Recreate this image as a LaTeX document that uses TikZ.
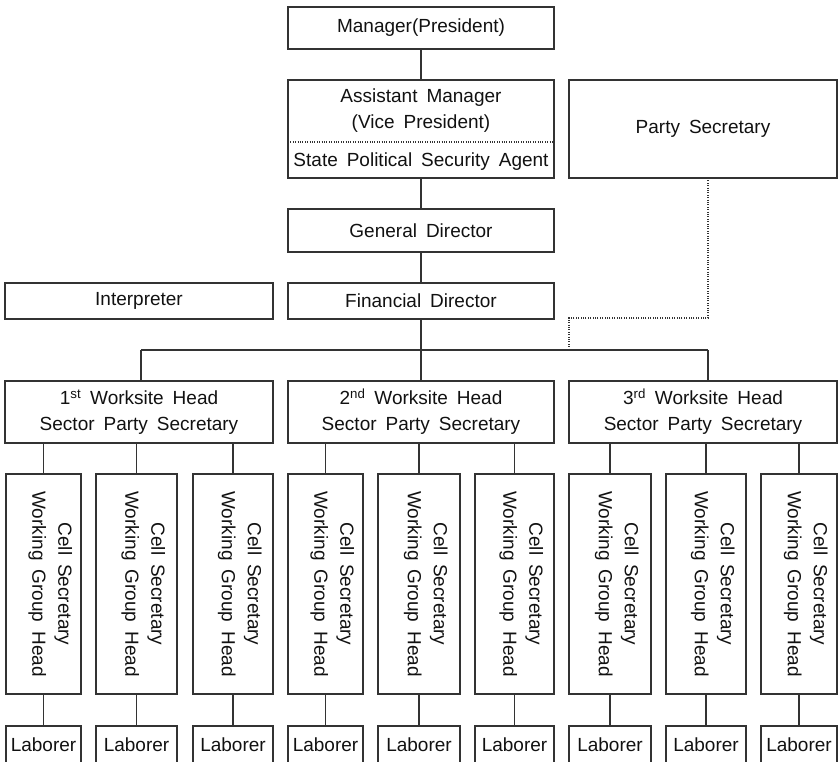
\documentclass[tikz,border=0pt]{standalone}
\usepackage{fontspec}
\setmainfont[WordSpace=1.7]{Liberation Sans}
\usepackage{graphicx}
\definecolor{linec}{HTML}{333333}
\definecolor{textc}{HTML}{111111}
\begin{document}
\begin{tikzpicture}[x=1pt,y=-1pt,
  box/.style={draw=linec, line width=1.1pt, inner sep=0pt, outer sep=0pt, align=center,
    font=\fontsize{19}{26}\selectfont, text=textc},
  txt/.style={inner sep=0pt, align=center, font=\fontsize{19}{26}\selectfont, text=textc},
  conn/.style={draw=linec, line width=1.1pt},
  dotc/.style={draw=linec, line width=1.1pt, dash pattern=on 1pt off 1.4pt},
  cellbox/.style={box, minimum height=220pt},
  labbox/.style={box, minimum height=42pt}]
\useasboundingbox (0,0) rectangle (838,761);
\newcommand{\celltext}{\hspace*{14pt}\rotatebox{-90}{\begin{tabular}{@{}c@{}}Cell Secretary\\Working Group Head\end{tabular}}}

% top chain
\node[box, minimum width=266pt, minimum height=42pt] (mgr) at (421,28) {Manager(President)};
\node[box, minimum width=266pt, minimum height=98pt] (asst) at (421,129) {};
\node[txt] (asstt) at (421,111) {Assistant Manager\\(Vice President)};
\node[txt] (spsa) at (421,161.5) {State Political Security Agent};
\node[box, minimum width=268pt, minimum height=98pt] (party) at (703,129) {Party Secretary};
\node[box, minimum width=266pt, minimum height=43pt] (gen) at (421,230.5) {General Director};
\node[box, minimum width=266pt, minimum height=36pt] (fin) at (421,301) {Financial Director};
\node[box, minimum width=268pt, minimum height=36pt] (interp) at (139,301) {Interpreter};

% worksites
\node[box, minimum width=268pt, minimum height=62pt] (ws1) at (139,412) {1\textsuperscript{st} Worksite Head\\Sector Party Secretary};
\node[box, minimum width=266pt, minimum height=62pt] (ws2) at (421,412) {2\textsuperscript{nd} Worksite Head\\Sector Party Secretary};
\node[box, minimum width=268pt, minimum height=62pt] (ws3) at (703,412) {3\textsuperscript{rd} Worksite Head\\Sector Party Secretary};

% cells
\node[cellbox, minimum width=75pt] (c11) at (43.5,584) {\celltext};
\node[cellbox, minimum width=81pt] (c12) at (136.5,584) {\celltext};
\node[cellbox, minimum width=80pt] (c13) at (233,584) {\celltext};
\node[cellbox, minimum width=75pt] (c21) at (325.5,584) {\celltext};
\node[cellbox, minimum width=82pt] (c22) at (419,584) {\celltext};
\node[cellbox, minimum width=79pt] (c23) at (514.5,584) {\celltext};
\node[cellbox, minimum width=82pt] (c31) at (610,584) {\celltext};
\node[cellbox, minimum width=80pt] (c32) at (706,584) {\celltext};
\node[cellbox, minimum width=76pt] (c33) at (799,584) {\celltext};

% laborers (bottom edge falls outside the picture, as in the reference)
\node[labbox, minimum width=75pt] (l11) at (43.5,747) {};
\node[labbox, minimum width=81pt] (l12) at (136.5,747) {};
\node[labbox, minimum width=80pt] (l13) at (233,747) {};
\node[labbox, minimum width=75pt] (l21) at (325.5,747) {};
\node[labbox, minimum width=82pt] (l22) at (419,747) {};
\node[labbox, minimum width=79pt] (l23) at (514.5,747) {};
\node[labbox, minimum width=82pt] (l31) at (610,747) {};
\node[labbox, minimum width=80pt] (l32) at (706,747) {};
\node[labbox, minimum width=76pt] (l33) at (799,747) {};
\foreach \n in {l11,l12,l13,l21,l22,l23,l31,l32,l33}{
  \node[txt] (\n t) at ([yshift=2.5pt]\n.center) {Laborer};
}

% dotted divider in assistant box
\draw[dotc] (asst.west |- 0,142) -- (asst.east |- 0,142);

% connectors
\coordinate (b1) at (141,350);
\coordinate (b3) at (708,350);
\draw[conn] (mgr.south) -- (asst.north);
\draw[conn] (asst.south) -- (gen.north);
\draw[conn] (gen.south) -- (fin.north);
\draw[conn] (fin.south) -- (fin.south |- b1);
\draw[conn] (b1) -- (b3);
\draw[conn] (b1) -- (b1 |- ws1.north);
\draw[conn] (fin.south |- b1) -- (ws2.north);
\draw[conn] (b3) -- (b3 |- ws3.north);

% party secretary dotted link
\coordinate (d0) at (708,178);
\coordinate (d1) at (708,318);
\coordinate (d2) at (569,318);
\coordinate (d3) at (569,350);
\draw[dotc] (d0) -- (d1) -- (d2) -- (d3);

\foreach \g in {1,2,3}{
  \foreach \i in {1,2,3}{
    \draw[conn] (c\g\i.north) -- (c\g\i.north |- ws\g.south);
    \draw[conn] (c\g\i.south) -- (l\g\i.north);
  }
}
\end{tikzpicture}
\end{document}
